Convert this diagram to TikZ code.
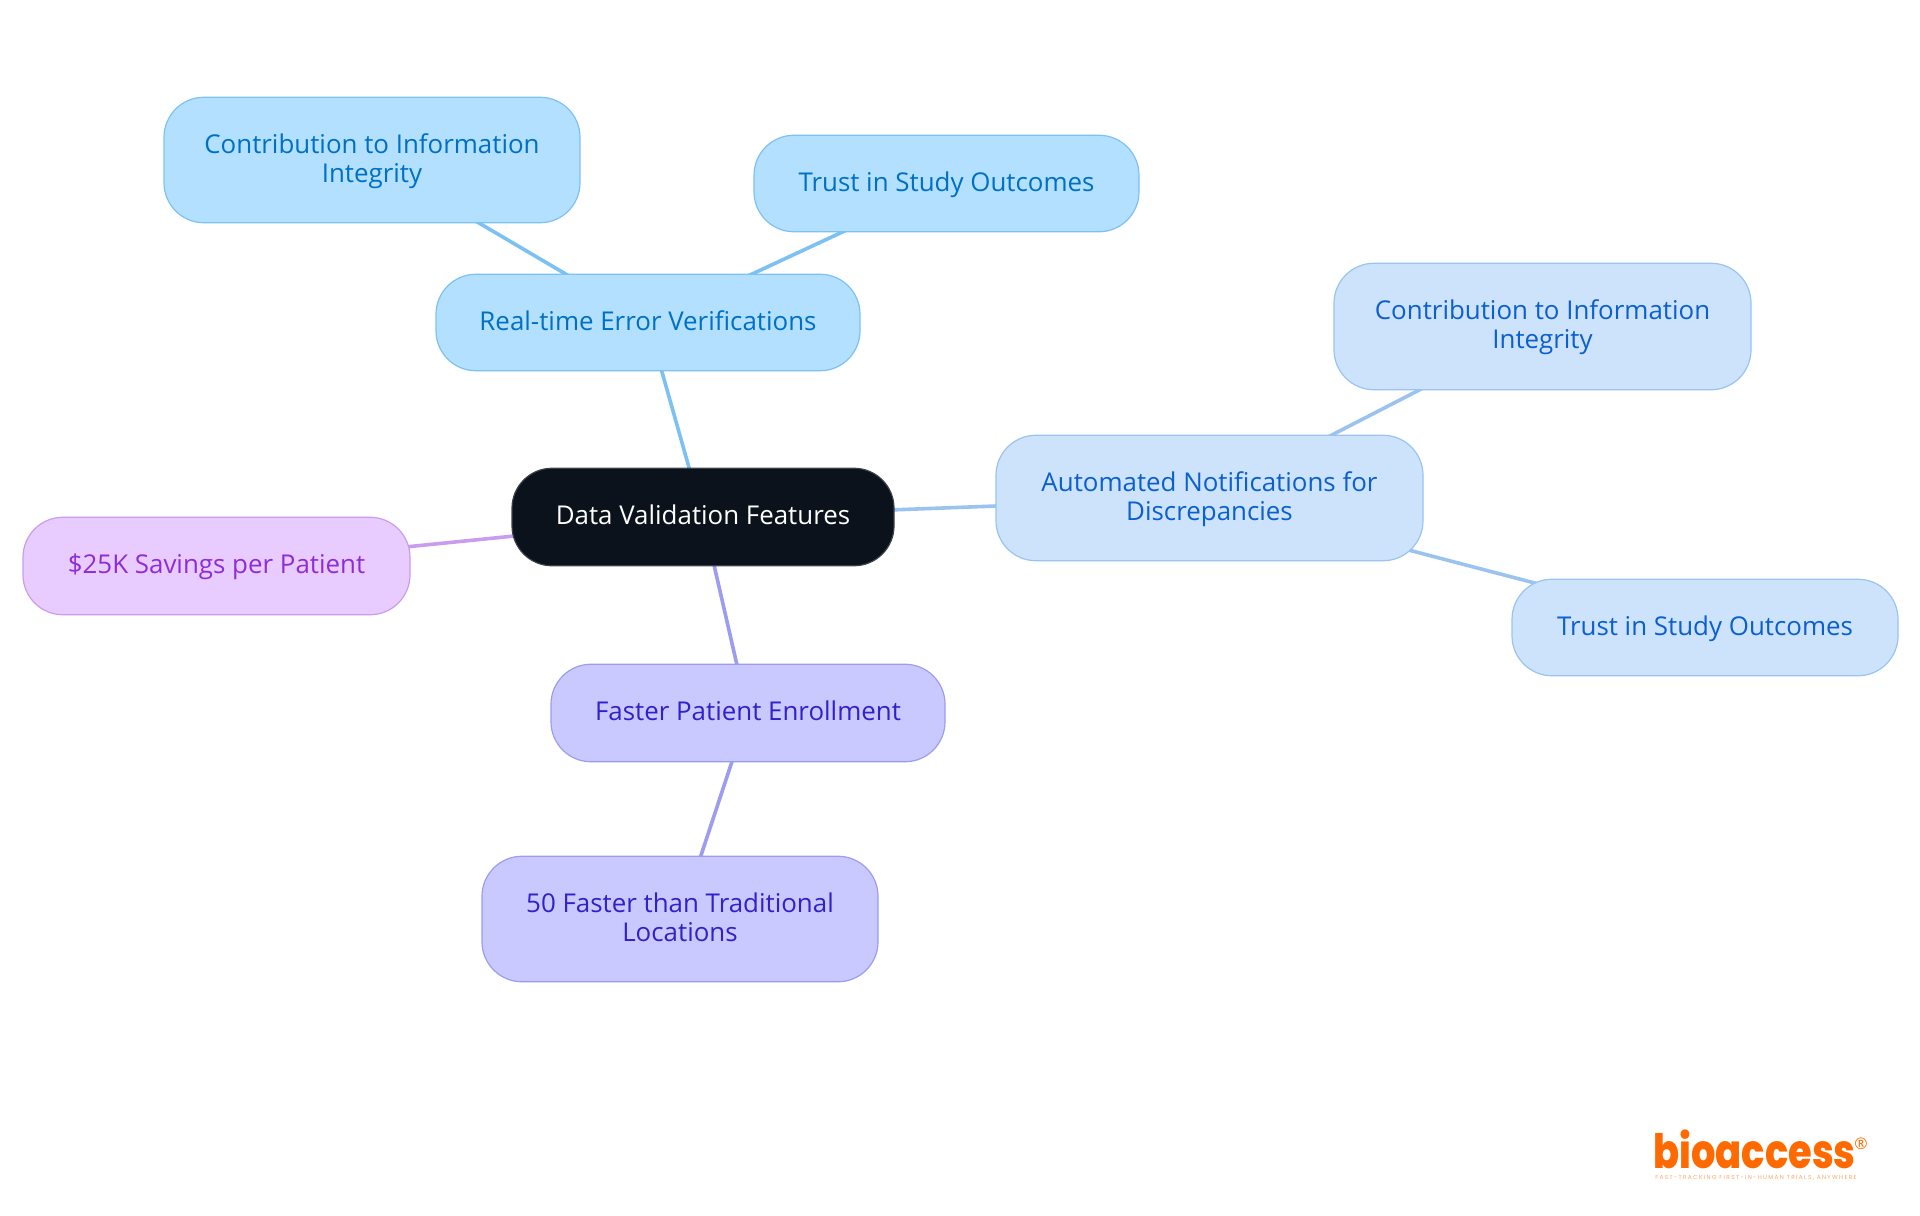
\documentclass[tikz,border=0pt]{standalone}
\usepackage{fontspec}
\setmainfont{Open Sans}
\newfontfamily\logofont[FakeStretch=0.81]{Poppins ExtraBold}
\newfontfamily\tagfont[LetterSpace=23]{Poppins}
\usetikzlibrary{backgrounds}
\definecolor{skyfill}{HTML}{B3E0FF}
\definecolor{skyline}{HTML}{7CC1F2}
\definecolor{skytext}{HTML}{0070C4}
\definecolor{bluefill}{HTML}{CDE3FC}
\definecolor{blueline}{HTML}{9AC3F0}
\definecolor{bluetext}{HTML}{0B5FCF}
\definecolor{violetfill}{HTML}{C9C9FF}
\definecolor{violetline}{HTML}{9C9CF0}
\definecolor{violettext}{HTML}{3022C8}
\definecolor{pinkfill}{HTML}{E8CBFF}
\definecolor{pinkline}{HTML}{C99CEE}
\definecolor{pinktext}{HTML}{8E2DD8}
\definecolor{rootfill}{HTML}{0B121B}
\definecolor{logoorange}{HTML}{FF6A00}
\tikzset{
  x=0.5pt,y=-0.5pt,
  boxsize/.style 2 args={minimum width=#1*0.5pt-0.5pt,minimum height=#2*0.5pt-0.25pt},
  mapnode/.style={rectangle,rounded corners=20pt,line width=0.6pt,inner sep=0pt,align=center,
    text height=11pt,text depth=3.4pt,font=\fontsize{12.95}{14.4}\selectfont},
  twoline/.style={text height=25.4pt},
  sky/.style={mapnode,draw=skyline,fill=skyfill,text=skytext},
  bluebox/.style={mapnode,draw=blueline,fill=bluefill,text=bluetext},
  violetbox/.style={mapnode,draw=violetline,fill=violetfill,text=violettext},
  pinkbox/.style={mapnode,draw=pinkline,fill=pinkfill,text=pinktext},
  rootbox/.style={mapnode,draw=rootfill!80!white,fill=rootfill,text=white},
  link/.style={line width=1.8pt},
}
\begin{document}
\begin{tikzpicture}
\useasboundingbox (0,0) rectangle (1920,1215);
\begin{scope}[shift={(0.5,0)}]
\node[rootbox,boxsize={383}{98}] (root) at (702.5,517) {Data Validation Features};
\node[sky,boxsize={425}{97}] (rt) at (647.5,322.5) {Real-time Error Verifications};
\node[sky,twoline,boxsize={417}{126}] (rtc) at (371.5,160) {Contribution to Information\\Integrity};
\node[sky,boxsize={386}{97}] (rtt) at (946,183.5) {Trust in Study Outcomes};
\node[bluebox,twoline,boxsize={428}{126}] (au) at (1209,498) {Automated Notifications for\\Discrepancies};
\node[bluebox,twoline,boxsize={418}{127}] (auc) at (1542,326.5) {Contribution to Information\\Integrity};
\node[bluebox,boxsize={387}{97}] (aut) at (1704.5,627.5) {Trust in Study Outcomes};
\node[pinkbox,boxsize={388}{98}] (sv) at (216,566) {\$25K Savings per Patient};
\node[violetbox,boxsize={395}{98}] (fp) at (747.5,713) {Faster Patient Enrollment};
\node[violetbox,twoline,boxsize={397}{126}] (ff) at (679.5,919) {50 Faster than Traditional\\Locations};
\end{scope}
\node[text=logoorange,anchor=base west,inner sep=0pt,font=\logofont\fontsize{23.7}{23.7}\selectfont] (logo) at (1653,1168) {bioaccess};
\node[text=logoorange,inner sep=0pt,font=\fontsize{8}{8}\selectfont] (reg) at (1861,1144) {®};
\node[text=logoorange!60!white,anchor=base west,inner sep=0pt,font=\tagfont\fontsize{2.9}{3}\selectfont] (tag) at (1655,1179.5) {FAST-TRACKING FIRST-IN-HUMAN TRIALS, ANYWHERE};
\begin{pgfonlayer}{background}
\draw[link,skyline] (root.center) -- (rt.center);
\draw[link,skyline] (rt.center) -- (rtc.center);
\draw[link,skyline] (rt.center) -- (rtt.center);
\draw[link,blueline] (root.center) -- (au.center);
\draw[link,blueline] (au.center) -- (auc.center);
\draw[link,blueline] (au.center) -- (aut.center);
\draw[link,pinkline] (root.center) -- (sv.center);
\draw[link,violetline] (root.center) -- (fp.center);
\draw[link,violetline] (fp.center) -- (ff.center);
\end{pgfonlayer}
\end{tikzpicture}
\end{document}
